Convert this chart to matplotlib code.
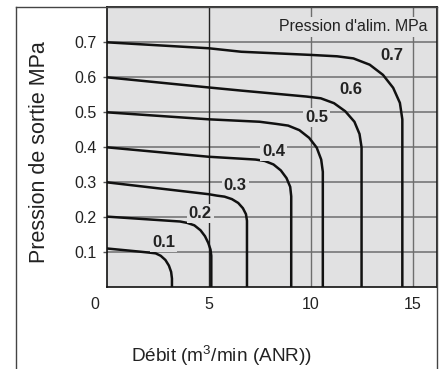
import matplotlib.pyplot as plt
from matplotlib.lines import Line2D
from matplotlib.transforms import ScaledTranslation

plt.rcParams["font.family"] = ["Liberation Sans", "DejaVu Sans"]
plt.rcParams["mathtext.fontset"] = "custom"
plt.rcParams["mathtext.rm"] = "Liberation Sans"

# Flow characteristics: outlet pressure (MPa) vs flow (m3/min ANR), one curve per supply pressure
supply_labels = ["0.1", "0.2", "0.3", "0.4", "0.5", "0.6", "0.7"]

flow_01 = [0, 1.6, 2.1, 2.4, 2.65, 2.88, 3.05, 3.16, 3.2, 3.2]
outlet_01 = [0.111, 0.102, 0.099, 0.097, 0.09, 0.078, 0.062, 0.044, 0.025, 0.0]

flow_02 = [0, 3.6, 3.95, 4.3, 4.6, 4.82, 4.98, 5.09, 5.13, 5.13]
outlet_02 = [0.202, 0.188, 0.184, 0.177, 0.163, 0.146, 0.127, 0.108, 0.09, 0.0]

flow_03 = [0, 5.0, 5.4, 5.78, 6.14, 6.45, 6.68, 6.83, 6.88, 6.88]
outlet_03 = [0.30, 0.266, 0.262, 0.259, 0.252, 0.241, 0.226, 0.209, 0.19, 0.0]

flow_04 = [0, 5.0, 7.3, 7.75, 8.18, 8.54, 8.82, 9.0, 9.05, 9.05]
outlet_04 = [0.40, 0.373, 0.365, 0.361, 0.351, 0.334, 0.312, 0.287, 0.26, 0.0]

flow_05 = [0, 5.0, 7.5, 8.3, 8.9, 9.45, 9.93, 10.3, 10.52, 10.6, 10.6]
outlet_05 = [0.50, 0.48, 0.473, 0.467, 0.462, 0.449, 0.427, 0.399, 0.365, 0.33, 0.0]

flow_06 = [0, 5.0, 6.6, 9.8, 10.5, 11.15, 11.7, 12.15, 12.4, 12.5, 12.5]
outlet_06 = [0.60, 0.571, 0.562, 0.545, 0.540, 0.526, 0.503, 0.473, 0.438, 0.40, 0.0]

flow_07 = [0, 5.0, 6.6, 10.0, 11.3, 12.1, 12.9, 13.55, 14.05, 14.38, 14.5, 14.5]
outlet_07 = [0.70, 0.683, 0.673, 0.664, 0.66, 0.654, 0.636, 0.607, 0.57, 0.527, 0.48, 0.0]

curves = [
    (flow_01, outlet_01),
    (flow_02, outlet_02),
    (flow_03, outlet_03),
    (flow_04, outlet_04),
    (flow_05, outlet_05),
    (flow_06, outlet_06),
    (flow_07, outlet_07),
]

# where each supply pressure label sits
label_x = [2.78, 4.58, 6.3, 8.19, 10.29, 11.96, 13.99]
label_y = [0.127, 0.211, 0.292, 0.387, 0.485, 0.564, 0.662]

x_ticks = [0, 5, 10, 15]
y_ticks = [0.1, 0.2, 0.3, 0.4, 0.5, 0.6, 0.7]

BG = "#e1e1e2"

fig = plt.figure(figsize=(4.45, 3.69), dpi=100)
ax = fig.add_axes([0.2398, 0.2214, 0.7422, 0.7588])
ax.set_facecolor(BG)
ax.set_xlim(0, 16.2)
ax.set_ylim(0, 0.8)

# grid
for yv in y_ticks:
    ax.axhline(yv, color="#6e6e6e", lw=1.1, zorder=1)
for xv in x_ticks[1:]:
    ax.axvline(xv, color="#222222" if xv == 5 else "#6e6e6e", lw=1.0, zorder=1)

for fx, py in curves:
    ax.plot(fx, py, color="#111111", lw=1.8, zorder=3, solid_capstyle="butt")

for lbl, lx, ly in zip(supply_labels, label_x, label_y):
    ax.text(lx, ly, lbl, fontsize=12, fontweight="bold", ha="center", va="center",
            color="#222222", zorder=4,
            bbox=dict(boxstyle="square,pad=0.12", fc=BG, ec="none"))

ax.text(0.9727, 0.9307, "Pression d'alim. MPa", transform=ax.transAxes,
        fontsize=11.4, ha="right", va="center", color="#222222", zorder=4,
        bbox=dict(boxstyle="square,pad=0.15", fc=BG, ec="none"))

ax.set_yticks(y_ticks)
ax.set_yticklabels([f"{v:.1f}" for v in y_ticks])
ax.set_xticks(x_ticks)
ax.set_xticklabels([str(v) for v in x_ticks])
ax.tick_params(axis="y", length=3, width=1, color="#555555", labelsize=11.5,
               pad=4, labelcolor="#222222")
ax.tick_params(axis="x", length=0, labelsize=11.5, pad=7, labelcolor="#222222")

# the "0" sits left of the corner
zero_lbl = ax.get_xticklabels()[0]
zero_lbl.set_transform(zero_lbl.get_transform()
                       + ScaledTranslation(-0.117, 0, fig.dpi_scale_trans))

for sp in ax.spines.values():
    sp.set_color("#111111")
    sp.set_linewidth(1.2)

fig.text(40 / 445, 1 - 152 / 369, "Pression de sortie MPa", rotation=90,
         fontsize=15.5, ha="center", va="center", color="#222222")
fig.text(222 / 445, 1 - 356 / 369, r"Débit (m$\mathregular{^3}$/min (ANR))",
         fontsize=13.7, ha="center", va="center", color="#222222")

# outer frame
fx0, fx1, fy1 = 16 / 445, 437 / 445, 1 - 7 / 369
fig.add_artist(Line2D([fx0, fx0], [0, fy1], transform=fig.transFigure,
                      color="#444444", lw=1.0))
fig.add_artist(Line2D([fx0, fx1], [fy1, fy1], transform=fig.transFigure,
                      color="#444444", lw=1.0))
fig.add_artist(Line2D([fx1, fx1], [0, fy1], transform=fig.transFigure,
                      color="#444444", lw=1.0))

fig.savefig("out.png", dpi=100)
